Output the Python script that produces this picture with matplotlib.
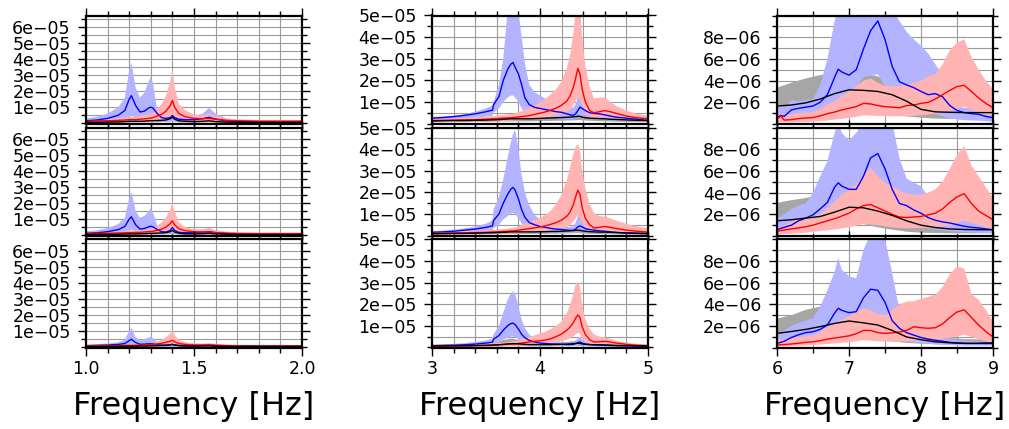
import numpy as np
import matplotlib
matplotlib.use("Agg")
import matplotlib.pyplot as plt
from matplotlib.ticker import FixedLocator, FixedFormatter, MultipleLocator

# ---------------- frequency grids ----------------
F1 = [1.00, 1.05, 1.10, 1.15, 1.18, 1.20, 1.21, 1.23, 1.25, 1.27, 1.29, 1.30, 1.31, 1.33, 1.35,
      1.37, 1.39, 1.40, 1.41, 1.43, 1.46, 1.50, 1.54, 1.57, 1.60, 1.65, 1.70, 1.80, 1.90, 2.00]
F2 = [3.00, 3.10, 3.20, 3.30, 3.40, 3.50, 3.56, 3.57, 3.62, 3.66, 3.70, 3.73, 3.75, 3.77, 3.80,
      3.83, 3.86, 3.90, 3.95, 4.00, 4.05, 4.10, 4.15, 4.20, 4.25, 4.28, 4.31, 4.33, 4.35, 4.37,
      4.39, 4.42, 4.46, 4.50, 4.55, 4.60, 4.65, 4.70, 4.80, 4.90, 5.00]
F3 = [6.00, 6.05, 6.10, 6.20, 6.30, 6.40, 6.50, 6.60, 6.70, 6.80, 6.85, 6.90, 7.00, 7.10, 7.20,
      7.30, 7.40, 7.50, 7.60, 7.70, 7.80, 7.90, 8.00, 8.10, 8.20, 8.30, 8.40, 8.50, 8.60, 8.70,
      8.80, 8.90, 9.00]
F3c = [6.0, 6.2, 6.4, 6.6, 6.8, 7.0, 7.2, 7.4, 7.6, 7.8, 8.0, 8.2, 8.4, 8.6, 8.8, 9.0]

# ---------------- column 1 (units 1e-5) ----------------
c1r1_blue = [0.15,0.2,0.3,0.5,0.8,1.5,1.72,1.1,0.7,0.75,0.95,1.0,0.95,0.6,0.35,0.3,0.35,0.48,0.35,0.25,0.22,0.22,0.28,0.37,0.25,0.15,0.12,0.1,0.1,0.1]
c1r1_blue_hi = [0.3,0.4,0.6,1.0,1.6,3.3,3.77,2.2,1.6,1.9,2.6,2.9,2.5,0.75,0.6,0.55,0.6,0.8,0.6,0.4,0.4,0.45,0.6,0.95,0.6,0.3,0.2,0.15,0.15,0.15]
c1r1_blue_lo = [0.05,0.08,0.1,0.15,0.2,0.4,0.5,0.3,0.2,0.2,0.25,0.3,0.25,0.15,0.1,0.1,0.12,0.15,0.12,0.1,0.08,0.08,0.1,0.12,0.1,0.06,0.05,0.04,0.04,0.04]
c1r1_red = [0.12,0.15,0.15,0.18,0.2,0.22,0.22,0.22,0.25,0.27,0.3,0.32,0.35,0.45,0.55,0.75,1.1,1.42,1.0,0.6,0.4,0.3,0.28,0.3,0.25,0.18,0.15,0.12,0.12,0.12]
c1r1_red_hi = [0.2,0.25,0.25,0.3,0.35,0.4,0.4,0.4,0.45,0.5,0.55,0.6,0.65,0.9,1.2,1.7,2.6,3.4,2.3,1.2,0.8,0.55,0.5,0.6,0.45,0.3,0.25,0.2,0.2,0.2]
c1r1_red_lo = [0.05,0.06,0.06,0.07,0.08,0.08,0.08,0.08,0.1,0.1,0.1,0.12,0.12,0.15,0.2,0.25,0.35,0.45,0.35,0.22,0.15,0.12,0.1,0.1,0.1,0.07,0.06,0.05,0.05,0.05]
c1r1_black = [0.05,0.06,0.07,0.08,0.1,0.12,0.12,0.12,0.12,0.13,0.15,0.16,0.16,0.17,0.18,0.2,0.28,0.37,0.25,0.15,0.12,0.1,0.12,0.15,0.1,0.07,0.06,0.05,0.05,0.05]
c1r1_gray_hi = [0.1,0.12,0.14,0.15,0.18,0.22,0.22,0.2,0.22,0.25,0.28,0.3,0.3,0.3,0.33,0.4,0.55,0.7,0.5,0.3,0.22,0.18,0.2,0.25,0.18,0.12,0.1,0.08,0.08,0.08]
c1r1_gray_lo = [0.02,0.02,0.02,0.03,0.04,0.05,0.05,0.05,0.05,0.05,0.06,0.06,0.06,0.06,0.07,0.08,0.1,0.12,0.1,0.06,0.05,0.04,0.05,0.06,0.04,0.03,0.02,0.02,0.02,0.02]

c1r2_blue = [0.12,0.15,0.22,0.35,0.55,1.0,1.15,0.65,0.38,0.42,0.52,0.56,0.52,0.35,0.22,0.2,0.3,0.48,0.3,0.18,0.15,0.15,0.18,0.22,0.15,0.1,0.08,0.07,0.07,0.07]
c1r2_blue_hi = [0.25,0.3,0.45,0.7,1.1,2.3,2.7,1.5,1.1,1.2,1.5,1.67,1.4,0.6,0.45,0.42,0.55,0.8,0.55,0.35,0.3,0.3,0.35,0.45,0.3,0.2,0.15,0.12,0.12,0.12]
c1r2_blue_lo = [0.04,0.05,0.07,0.1,0.15,0.3,0.35,0.2,0.12,0.12,0.15,0.18,0.15,0.1,0.07,0.07,0.1,0.15,0.1,0.06,0.05,0.05,0.06,0.07,0.05,0.04,0.03,0.03,0.03,0.03]
c1r2_red = [0.1,0.12,0.12,0.14,0.15,0.16,0.16,0.17,0.18,0.2,0.22,0.23,0.25,0.3,0.38,0.5,0.72,0.9,0.65,0.4,0.28,0.22,0.2,0.2,0.17,0.13,0.11,0.1,0.1,0.1]
c1r2_red_hi = [0.18,0.2,0.2,0.22,0.25,0.28,0.28,0.3,0.32,0.35,0.38,0.4,0.45,0.6,0.8,1.1,1.6,2.08,1.5,0.8,0.5,0.38,0.35,0.4,0.3,0.22,0.18,0.16,0.16,0.16]
c1r2_red_lo = [0.04,0.04,0.04,0.05,0.05,0.06,0.06,0.06,0.07,0.07,0.08,0.08,0.09,0.1,0.13,0.17,0.25,0.3,0.22,0.14,0.1,0.08,0.07,0.07,0.06,0.05,0.04,0.04,0.04,0.04]
c1r2_black = [0.04,0.05,0.05,0.06,0.07,0.08,0.08,0.08,0.09,0.1,0.11,0.12,0.12,0.13,0.14,0.16,0.22,0.3,0.2,0.12,0.09,0.08,0.09,0.12,0.08,0.06,0.05,0.04,0.04,0.04]
c1r2_gray_hi = [0.08,0.1,0.11,0.12,0.14,0.17,0.17,0.16,0.17,0.19,0.21,0.23,0.23,0.24,0.27,0.32,0.42,0.55,0.4,0.24,0.18,0.15,0.16,0.2,0.14,0.1,0.08,0.07,0.07,0.07]
c1r2_gray_lo = [0.01,0.01,0.02,0.02,0.03,0.04,0.04,0.04,0.04,0.04,0.05,0.05,0.05,0.05,0.06,0.06,0.08,0.1,0.08,0.05,0.04,0.03,0.04,0.05,0.03,0.02,0.02,0.01,0.01,0.01]

c1r3_blue = [0.08,0.1,0.12,0.16,0.22,0.4,0.48,0.28,0.17,0.18,0.2,0.2,0.19,0.15,0.12,0.12,0.14,0.17,0.13,0.1,0.09,0.09,0.1,0.11,0.09,0.07,0.06,0.05,0.05,0.05]
c1r3_blue_hi = [0.15,0.18,0.22,0.3,0.45,1.0,1.2,0.6,0.45,0.5,0.6,0.63,0.55,0.3,0.22,0.22,0.25,0.3,0.25,0.18,0.16,0.16,0.18,0.22,0.16,0.12,0.1,0.09,0.09,0.09]
c1r3_blue_lo = [0.03,0.04,0.04,0.05,0.07,0.12,0.15,0.09,0.06,0.06,0.07,0.07,0.06,0.05,0.04,0.04,0.05,0.06,0.05,0.04,0.03,0.03,0.03,0.04,0.03,0.02,0.02,0.02,0.02,0.02]
c1r3_red = [0.07,0.08,0.08,0.09,0.1,0.1,0.1,0.11,0.12,0.13,0.14,0.15,0.16,0.19,0.23,0.29,0.36,0.42,0.33,0.22,0.16,0.13,0.12,0.13,0.11,0.09,0.08,0.07,0.07,0.07]
c1r3_red_hi = [0.12,0.13,0.13,0.15,0.16,0.17,0.17,0.18,0.2,0.22,0.24,0.26,0.28,0.35,0.45,0.6,0.85,1.04,0.75,0.45,0.3,0.24,0.22,0.25,0.2,0.15,0.13,0.12,0.12,0.12]
c1r3_red_lo = [0.02,0.03,0.03,0.03,0.03,0.04,0.04,0.04,0.04,0.05,0.05,0.05,0.05,0.06,0.07,0.09,0.12,0.14,0.11,0.07,0.05,0.04,0.04,0.04,0.04,0.03,0.03,0.02,0.02,0.02]
c1r3_black = [0.03,0.03,0.04,0.04,0.05,0.05,0.05,0.05,0.06,0.06,0.07,0.07,0.07,0.08,0.09,0.1,0.13,0.16,0.12,0.08,0.06,0.05,0.06,0.07,0.05,0.04,0.03,0.03,0.03,0.03]
c1r3_gray_hi = [0.06,0.07,0.08,0.08,0.09,0.11,0.11,0.1,0.11,0.12,0.13,0.14,0.14,0.15,0.17,0.2,0.25,0.3,0.23,0.15,0.11,0.09,0.1,0.12,0.09,0.07,0.06,0.05,0.05,0.05]
c1r3_gray_lo = [0.01,0.01,0.01,0.01,0.02,0.02,0.02,0.02,0.02,0.02,0.02,0.03,0.03,0.03,0.03,0.03,0.04,0.05,0.04,0.03,0.02,0.02,0.02,0.02,0.02,0.01,0.01,0.01,0.01,0.01]

# ---------------- column 2 (units 1e-5) ----------------
c2r1_blue = [0.25,0.28,0.32,0.38,0.45,0.55,0.62,0.87,1.25,2.0,2.5,2.75,2.83,2.6,2.3,1.8,1.2,0.88,0.75,0.7,0.65,0.6,0.55,0.52,0.45,0.4,0.38,0.45,0.6,0.76,0.7,0.6,0.5,0.47,0.45,0.4,0.35,0.3,0.25,0.2,0.14]
c2r1_blue_hi = [0.3,0.33,0.36,0.42,0.55,0.7,0.85,1.0,1.8,3.0,5.2,5.5,5.5,5.5,5.2,4.0,2.8,1.8,1.45,1.3,1.15,1.0,0.9,0.8,0.7,0.7,0.75,0.9,1.2,1.3,1.1,0.8,0.6,0.5,0.47,0.42,0.38,0.35,0.3,0.27,0.25]
c2r1_blue_lo = [0.15,0.17,0.2,0.23,0.27,0.32,0.35,0.5,0.7,1.0,1.2,1.3,1.3,1.2,1.0,0.7,0.5,0.4,0.35,0.32,0.3,0.28,0.26,0.24,0.22,0.2,0.2,0.25,0.35,0.4,0.35,0.3,0.26,0.24,0.22,0.2,0.18,0.15,0.12,0.1,0.08]
c2r1_red = [0.14,0.15,0.16,0.17,0.18,0.2,0.22,0.22,0.24,0.25,0.26,0.27,0.28,0.29,0.3,0.32,0.34,0.37,0.42,0.48,0.54,0.62,0.72,0.85,1.05,1.3,1.7,2.1,2.55,2.3,1.6,1.0,0.6,0.5,0.55,0.6,0.55,0.48,0.35,0.27,0.22]
c2r1_red_hi = [0.2,0.22,0.24,0.26,0.28,0.32,0.35,0.35,0.38,0.4,0.42,0.44,0.45,0.48,0.52,0.58,0.64,0.72,0.85,1.0,1.15,1.35,1.6,1.95,2.6,3.2,4.2,5.2,5.5,5.5,4.0,2.7,1.7,1.15,1.2,1.22,1.0,0.83,0.6,0.45,0.37]
c2r1_red_lo = [0.08,0.09,0.09,0.1,0.1,0.11,0.12,0.12,0.13,0.13,0.14,0.14,0.15,0.15,0.16,0.17,0.18,0.2,0.22,0.25,0.28,0.32,0.37,0.43,0.52,0.65,0.85,1.05,1.2,1.1,0.8,0.5,0.32,0.27,0.28,0.3,0.28,0.25,0.18,0.14,0.12]
c2r1_black = [0.12,0.13,0.14,0.14,0.15,0.16,0.17,0.17,0.18,0.2,0.21,0.22,0.22,0.22,0.22,0.22,0.22,0.22,0.23,0.24,0.25,0.26,0.27,0.28,0.29,0.3,0.31,0.32,0.34,0.33,0.3,0.27,0.25,0.24,0.23,0.22,0.2,0.19,0.17,0.15,0.14]
c2r1_gray_hi = [0.2,0.21,0.22,0.23,0.25,0.27,0.29,0.3,0.32,0.36,0.4,0.42,0.43,0.42,0.4,0.38,0.36,0.35,0.36,0.37,0.38,0.39,0.4,0.41,0.43,0.45,0.47,0.5,0.52,0.5,0.45,0.4,0.37,0.35,0.34,0.33,0.31,0.29,0.26,0.23,0.21]
c2r1_gray_lo = [0.06,0.06,0.07,0.07,0.08,0.08,0.09,0.09,0.09,0.1,0.1,0.1,0.1,0.1,0.1,0.1,0.1,0.1,0.11,0.11,0.12,0.12,0.13,0.13,0.14,0.14,0.15,0.15,0.16,0.16,0.15,0.14,0.13,0.12,0.11,0.11,0.1,0.09,0.08,0.07,0.07]

c2r2_blue = [0.15,0.17,0.2,0.25,0.3,0.38,0.45,0.7,1.0,1.5,1.9,2.15,2.23,2.1,1.7,1.2,0.85,0.6,0.5,0.42,0.38,0.33,0.3,0.28,0.25,0.24,0.24,0.3,0.4,0.45,0.4,0.32,0.28,0.25,0.22,0.2,0.17,0.15,0.12,0.1,0.08]
c2r2_blue_hi = [0.2,0.23,0.27,0.33,0.42,0.55,0.7,1.2,1.8,2.6,3.6,4.3,4.7,4.9,4.0,2.8,2.0,1.4,0.95,0.75,0.62,0.55,0.5,0.45,0.42,0.4,0.42,0.6,0.9,1.0,0.8,0.55,0.4,0.35,0.32,0.3,0.27,0.25,0.2,0.18,0.15]
c2r2_blue_lo = [0.08,0.09,0.1,0.12,0.14,0.17,0.2,0.35,0.5,0.75,0.9,1.0,1.05,1.0,0.8,0.55,0.4,0.3,0.25,0.22,0.2,0.18,0.16,0.15,0.14,0.13,0.13,0.16,0.2,0.22,0.2,0.17,0.15,0.13,0.12,0.11,0.1,0.09,0.07,0.06,0.05]
c2r2_red = [0.1,0.11,0.12,0.13,0.14,0.15,0.17,0.17,0.18,0.19,0.2,0.21,0.22,0.23,0.25,0.27,0.29,0.32,0.36,0.4,0.45,0.52,0.6,0.72,0.9,1.1,1.45,1.8,2.1,1.9,1.3,0.8,0.5,0.35,0.38,0.42,0.38,0.33,0.25,0.2,0.16]
c2r2_red_hi = [0.18,0.19,0.2,0.21,0.22,0.24,0.26,0.26,0.28,0.3,0.32,0.34,0.36,0.38,0.42,0.48,0.55,0.62,0.72,0.82,0.95,1.15,1.45,1.9,2.6,3.2,3.8,4.1,4.23,4.0,3.0,2.2,1.46,1.05,0.9,0.88,0.8,0.7,0.54,0.42,0.35]
c2r2_red_lo = [0.05,0.05,0.06,0.06,0.07,0.07,0.08,0.08,0.08,0.09,0.09,0.1,0.1,0.1,0.11,0.12,0.13,0.14,0.16,0.18,0.2,0.23,0.27,0.32,0.4,0.5,0.65,0.8,0.95,0.85,0.6,0.38,0.24,0.17,0.18,0.2,0.18,0.16,0.12,0.1,0.08]
c2r2_black = [0.08,0.09,0.1,0.1,0.11,0.12,0.13,0.13,0.14,0.15,0.16,0.17,0.17,0.17,0.17,0.17,0.17,0.17,0.17,0.18,0.18,0.19,0.19,0.2,0.21,0.22,0.23,0.24,0.25,0.24,0.22,0.2,0.18,0.17,0.16,0.16,0.15,0.14,0.12,0.11,0.1]
c2r2_gray_hi = [0.15,0.16,0.17,0.18,0.19,0.21,0.23,0.23,0.25,0.28,0.31,0.33,0.34,0.33,0.31,0.29,0.28,0.27,0.27,0.28,0.28,0.29,0.3,0.31,0.33,0.35,0.37,0.4,0.42,0.4,0.36,0.32,0.29,0.27,0.26,0.25,0.24,0.22,0.2,0.18,0.16]
c2r2_gray_lo = [0.04,0.04,0.05,0.05,0.05,0.06,0.06,0.06,0.07,0.07,0.07,0.08,0.08,0.08,0.08,0.08,0.08,0.08,0.08,0.08,0.08,0.09,0.09,0.09,0.1,0.1,0.11,0.11,0.12,0.11,0.1,0.09,0.08,0.08,0.07,0.07,0.07,0.06,0.05,0.05,0.04]

c2r3_blue = [0.08,0.09,0.1,0.12,0.15,0.2,0.24,0.38,0.55,0.8,1.0,1.1,1.12,1.05,0.85,0.6,0.45,0.32,0.25,0.2,0.18,0.16,0.15,0.14,0.13,0.13,0.14,0.18,0.22,0.25,0.2,0.15,0.13,0.12,0.11,0.1,0.09,0.08,0.07,0.06,0.05]
c2r3_blue_hi = [0.12,0.14,0.16,0.2,0.25,0.32,0.4,0.6,1.0,1.6,2.2,2.5,2.58,2.5,1.9,1.3,0.9,0.6,0.42,0.32,0.28,0.25,0.23,0.22,0.21,0.21,0.22,0.3,0.42,0.5,0.38,0.27,0.22,0.2,0.18,0.16,0.15,0.14,0.12,0.1,0.09]
c2r3_blue_lo = [0.04,0.04,0.05,0.06,0.07,0.09,0.1,0.17,0.25,0.35,0.45,0.5,0.5,0.48,0.38,0.27,0.2,0.15,0.12,0.1,0.09,0.08,0.07,0.07,0.06,0.06,0.07,0.08,0.1,0.11,0.09,0.07,0.06,0.06,0.05,0.05,0.04,0.04,0.03,0.03,0.02]
c2r3_red = [0.06,0.07,0.07,0.08,0.09,0.1,0.11,0.11,0.12,0.13,0.14,0.15,0.16,0.17,0.18,0.2,0.22,0.25,0.28,0.31,0.34,0.4,0.5,0.62,0.8,0.95,1.15,1.35,1.5,1.38,0.95,0.6,0.35,0.25,0.26,0.28,0.25,0.2,0.14,0.1,0.08]
c2r3_red_hi = [0.1,0.11,0.12,0.13,0.14,0.16,0.18,0.18,0.2,0.22,0.24,0.26,0.28,0.3,0.33,0.37,0.42,0.48,0.56,0.64,0.72,0.85,1.0,1.2,1.6,2.0,2.5,2.9,3.05,2.8,2.0,1.3,0.85,0.6,0.5,0.46,0.4,0.32,0.22,0.16,0.13]
c2r3_red_lo = [0.03,0.03,0.03,0.04,0.04,0.04,0.05,0.05,0.05,0.06,0.06,0.07,0.07,0.07,0.08,0.09,0.1,0.11,0.12,0.14,0.15,0.18,0.22,0.28,0.36,0.43,0.52,0.6,0.68,0.62,0.43,0.27,0.16,0.11,0.12,0.13,0.11,0.09,0.06,0.05,0.04]
c2r3_black = [0.06,0.06,0.07,0.07,0.08,0.09,0.1,0.11,0.12,0.14,0.16,0.17,0.17,0.17,0.16,0.15,0.14,0.13,0.13,0.13,0.13,0.13,0.14,0.14,0.15,0.16,0.17,0.18,0.19,0.18,0.16,0.14,0.13,0.12,0.12,0.11,0.1,0.09,0.08,0.07,0.07]
c2r3_gray_hi = [0.1,0.11,0.12,0.13,0.15,0.17,0.2,0.24,0.28,0.34,0.38,0.4,0.4,0.38,0.34,0.3,0.27,0.24,0.23,0.22,0.22,0.22,0.23,0.24,0.25,0.27,0.29,0.31,0.33,0.31,0.27,0.24,0.22,0.2,0.19,0.18,0.17,0.15,0.13,0.12,0.11]
c2r3_gray_lo = [0.03,0.03,0.03,0.03,0.04,0.04,0.04,0.05,0.05,0.05,0.06,0.06,0.06,0.06,0.06,0.06,0.06,0.05,0.05,0.05,0.05,0.05,0.05,0.06,0.06,0.06,0.07,0.07,0.07,0.07,0.06,0.06,0.05,0.05,0.05,0.05,0.04,0.04,0.04,0.03,0.03]

# ---------------- column 3 (units 1e-6) ----------------
c3r1_blue = [0.58,0.8,0.7,1.3,1.45,1.55,1.66,2.0,2.7,4.3,5.05,4.8,4.5,5.0,6.9,8.6,9.5,7.8,5.3,3.9,3.6,3.35,3.0,2.7,2.8,2.5,1.7,1.25,1.05,0.95,0.9,0.7,0.58]
c3r1_blue_hi = [1.35,1.8,1.5,2.2,2.1,2.2,2.3,3.6,6.0,9.5,10.5,10.5,10.5,10.5,10.5,10.5,10.5,10.5,10.5,9.5,8.5,7.8,7.2,6.5,5.5,4.5,2.5,1.6,1.5,1.4,1.35,1.2,1.05]
c3r1_red = [0.43,0.74,0.36,0.4,0.5,0.55,0.6,0.75,0.95,1.1,1.2,1.3,1.45,1.6,1.9,1.85,1.7,1.6,1.55,1.5,1.7,1.75,1.9,2.0,2.3,2.7,3.1,3.45,3.57,3.0,2.4,1.9,1.5]
c3r1_red_hi = [0.74,1.0,0.8,0.9,1.0,1.05,1.1,1.4,1.8,2.1,2.3,2.6,3.0,3.5,4.0,4.2,3.8,3.5,3.5,3.5,3.6,3.8,4.0,4.4,4.6,5.5,6.8,7.5,7.8,6.2,5.0,4.0,3.2]
c3r1_blue_lo = [0.2,0.4,0.6,0.9,1.8,2.4,4.3,4.6,2.3,1.4,1.0,0.9,0.5,0.35,0.3,0.2]
c3r1_red_lo = [0.15,0.15,0.18,0.25,0.4,0.55,0.8,0.75,0.7,0.72,0.8,0.95,1.2,1.6,1.0,0.7]
c3r1_black = [1.66,1.75,1.95,2.3,2.8,3.15,3.1,3.0,2.7,2.1,1.35,1.12,1.08,1.05,1.05,1.05]
c3r1_gray_hi = [3.35,3.8,4.2,4.5,4.7,4.7,4.65,4.4,3.6,2.8,2.0,1.65,1.5,1.45,1.4,1.4]
c3r1_gray_lo = [1.05,1.1,1.2,1.4,1.5,1.66,1.5,1.2,0.9,0.7,0.58,0.5,0.47,0.45,0.45,0.45]

c3r2_blue = [0.58,0.7,0.8,1.0,1.4,1.65,1.95,2.5,3.1,4.5,4.9,4.6,4.3,4.3,5.5,7.2,7.6,6.2,4.3,3.0,2.8,2.4,2.1,1.7,1.45,1.3,1.2,1.05,0.9,0.8,0.74,0.65,0.58]
c3r2_blue_hi = [1.66,1.8,2.0,2.5,2.8,3.0,4.0,5.5,6.9,9.5,10.5,9.5,8.8,9.5,10.5,10.5,10.5,10.5,10.5,7.2,5.3,4.9,4.6,3.6,3.0,2.3,2.0,1.7,1.5,1.35,1.2,1.1,1.05]
c3r2_red = [0.43,0.5,0.55,0.65,0.75,0.85,1.0,1.2,1.4,1.6,1.7,1.85,2.1,2.5,2.8,2.9,2.6,2.3,2.0,1.75,1.7,1.75,1.8,1.95,2.1,2.5,3.1,3.6,3.9,3.0,2.3,1.9,1.5]
c3r2_red_hi = [0.74,0.9,1.0,1.3,1.5,1.7,1.8,2.0,2.6,3.2,3.5,3.8,4.3,4.8,5.6,6.3,5.5,4.9,4.6,4.2,3.9,3.8,3.8,4.0,4.3,5.0,6.2,7.5,8.3,6.5,5.5,4.5,3.5]
c3r2_blue_lo = [0.2,0.35,0.55,0.9,1.6,1.8,2.8,3.0,1.6,1.0,0.8,0.6,0.45,0.35,0.3,0.25]
c3r2_red_lo = [0.15,0.2,0.3,0.45,0.6,0.8,1.1,1.0,0.8,0.7,0.75,0.8,1.0,1.4,1.0,0.6]
c3r2_black = [1.4,1.5,1.65,1.8,2.2,2.65,2.6,2.3,1.9,1.4,1.0,0.78,0.65,0.6,0.58,0.58]
c3r2_gray_hi = [3.05,3.3,3.5,3.8,4.0,4.2,4.0,3.5,3.0,2.4,1.8,1.4,1.2,1.1,1.05,1.0]
c3r2_gray_lo = [0.74,0.8,0.9,1.0,1.1,1.2,1.1,0.8,0.58,0.4,0.3,0.27,0.25,0.25,0.25,0.25]

c3r3_blue = [0.4,0.5,0.6,0.95,1.2,1.4,1.48,1.7,2.1,3.2,3.64,3.45,3.24,3.33,4.6,5.4,5.3,4.2,2.5,1.8,1.4,1.17,0.95,0.8,0.7,0.6,0.5,0.45,0.4,0.4,0.42,0.45,0.46]
c3r3_blue_hi = [1.17,1.4,1.6,2.0,2.3,2.5,2.7,3.8,5.3,7.0,8.3,7.2,6.6,6.4,9.0,10.5,10.5,10.0,6.9,3.5,2.0,1.5,1.2,1.0,0.9,0.86,0.8,0.7,0.65,0.6,0.58,0.56,0.55]
c3r3_red = [0.25,0.28,0.3,0.35,0.42,0.5,0.55,0.65,0.8,0.9,0.95,1.0,1.1,1.3,1.6,1.6,1.4,1.33,1.38,1.45,1.6,1.94,1.85,1.8,1.85,2.2,2.8,3.3,3.5,2.8,2.1,1.5,1.0]
c3r3_red_hi = [0.7,0.75,0.8,0.9,1.0,1.1,1.17,1.5,1.9,2.2,2.4,2.6,2.9,3.3,3.64,3.5,3.1,3.0,3.5,4.0,4.26,4.3,4.5,4.7,4.9,5.6,6.8,7.5,7.3,5.0,4.4,3.5,2.4]
c3r3_blue_lo = [0.15,0.4,0.6,0.8,1.4,1.5,2.2,2.3,1.0,0.55,0.4,0.3,0.25,0.2,0.2,0.2]
c3r3_red_lo = [0.1,0.15,0.2,0.3,0.4,0.5,0.7,0.6,0.55,0.6,0.7,0.7,0.9,1.2,0.8,0.4]
c3r3_black = [1.33,1.5,1.7,1.95,2.25,2.47,2.3,2.1,1.6,1.0,0.75,0.55,0.46,0.42,0.4,0.4]
c3r3_gray_hi = [2.7,3.0,3.5,3.8,3.9,3.9,3.7,3.2,2.6,2.0,1.5,1.1,0.9,0.8,0.78,0.75]
c3r3_gray_lo = [0.8,0.85,0.95,1.05,1.15,1.2,1.0,0.8,0.6,0.45,0.38,0.33,0.3,0.3,0.3,0.3]

# ---------------- axes tick labels ----------------
X1_TICKS = [1.0, 1.5, 2.0]; X1_LABELS = ["1.0", "1.5", "2.0"]
X2_TICKS = [3, 4, 5];       X2_LABELS = ["3", "4", "5"]
X3_TICKS = [6, 7, 8, 9];    X3_LABELS = ["6", "7", "8", "9"]
Y1_TICKS = [1e-5, 2e-5, 3e-5, 4e-5, 5e-5, 6e-5]
Y1_LABELS = ["1e\u221205", "2e\u221205", "3e\u221205", "4e\u221205", "5e\u221205", "6e\u221205"]
Y2_TICKS = [1e-5, 2e-5, 3e-5, 4e-5, 5e-5]
Y2_LABELS = ["1e\u221205", "2e\u221205", "3e\u221205", "4e\u221205", "5e\u221205"]
Y3_TICKS = [2e-6, 4e-6, 6e-6, 8e-6]
Y3_LABELS = ["2e\u221206", "4e\u221206", "6e\u221206", "8e\u221206"]
XLABEL = "Frequency [Hz]"

# ---------------- build table ----------------
G = globals()
cols = [
    dict(f=F1, fc=F1, unit=1e-5, xlim=(1.0, 2.0), ylim=(-0.05e-5, 6.73e-5),
         xt=X1_TICKS, xl=X1_LABELS, xminor=0.1, yt=Y1_TICKS, yl=Y1_LABELS, yminor=0.5e-5),
    dict(f=F2, fc=F2, unit=1e-5, xlim=(3.0, 5.0), ylim=(-0.02e-5, 5.0e-5),
         xt=X2_TICKS, xl=X2_LABELS, xminor=0.2, yt=Y2_TICKS, yl=Y2_LABELS, yminor=0.5e-5),
    dict(f=F3, fc=F3c, unit=1e-6, xlim=(6.0, 9.0), ylim=(0.0, 1.0e-5),
         xt=X3_TICKS, xl=X3_LABELS, xminor=0.5, yt=Y3_TICKS, yl=Y3_LABELS, yminor=1e-6),
]

W, H = 1009, 429
fig = plt.figure(figsize=(W / 100, H / 100), dpi=100)
plt.rcParams['font.family'] = ['DejaVu Sans']

lefts = [86, 432, 777]
tops = [15.5, 127.5, 239.3]
aw, ah = 216, 108.5

BLUE_FILL, RED_FILL, GRAY_FILL = '#b3b3ff', '#ffb3b3', '#a6a6a6'

def band(ax, fh, hi, fl, lo, unit, color):
    x = np.concatenate([np.asarray(fh), np.asarray(fl)[::-1]])
    y = np.concatenate([np.asarray(hi), np.asarray(lo)[::-1]]) * unit
    ax.fill(x, y, color=color, lw=0, zorder=2)

for c, col in enumerate(cols):
    for r in range(3):
        p = f"c{c+1}r{r+1}_"
        ax = fig.add_axes([lefts[c] / W, 1 - (tops[r] + ah) / H, aw / W, ah / H])
        u = col['unit']
        f, fc = col['f'], col['fc']
        band(ax, fc, G[p + 'gray_hi'], fc, G[p + 'gray_lo'], u, GRAY_FILL)
        band(ax, f, G[p + 'blue_hi'], fc, G[p + 'blue_lo'], u, BLUE_FILL)
        band(ax, f, G[p + 'red_hi'], fc, G[p + 'red_lo'], u, RED_FILL)
        ax.plot(f, np.asarray(G[p + 'blue']) * u, color='#0000ff', lw=1.0, zorder=3)
        ax.plot(f, np.asarray(G[p + 'red']) * u, color='#ff0000', lw=1.0, zorder=3)
        ax.plot(fc, np.asarray(G[p + 'black']) * u, color='black', lw=1.0, zorder=3)

        ax.set_xlim(*col['xlim'])
        ax.set_ylim(*col['ylim'])
        ax.xaxis.set_major_locator(FixedLocator(col['xt']))
        ax.xaxis.set_minor_locator(MultipleLocator(col['xminor']))
        ax.yaxis.set_major_locator(FixedLocator(col['yt']))
        ax.yaxis.set_major_formatter(FixedFormatter(col['yl']))
        ax.yaxis.set_minor_locator(MultipleLocator(col['yminor']))
        if r == 2:
            ax.xaxis.set_major_formatter(FixedFormatter(col['xl']))
        else:
            ax.set_xticklabels([])
        ax.grid(True, which='both', color='#9a9a9a', lw=0.8, zorder=1)
        ax.set_axisbelow(True)
        ax.tick_params(which='major', direction='out', length=6, width=1.0,
                       top=True, right=True, labelsize=12.5, pad=3, colors='black')
        ax.tick_params(which='minor', direction='out', length=3.5, width=1.0,
                       top=True, right=True)
        ax.tick_params(axis='y', which='major', pad=5)
        for s in ax.spines.values():
            s.set_linewidth(1.6)
            s.set_zorder(5)
    fig.text((lefts[c] + aw / 2) / W, 1 - 406 / H, XLABEL, ha='center', va='center',
             fontsize=23)

fig.savefig('out.png', dpi=100)
